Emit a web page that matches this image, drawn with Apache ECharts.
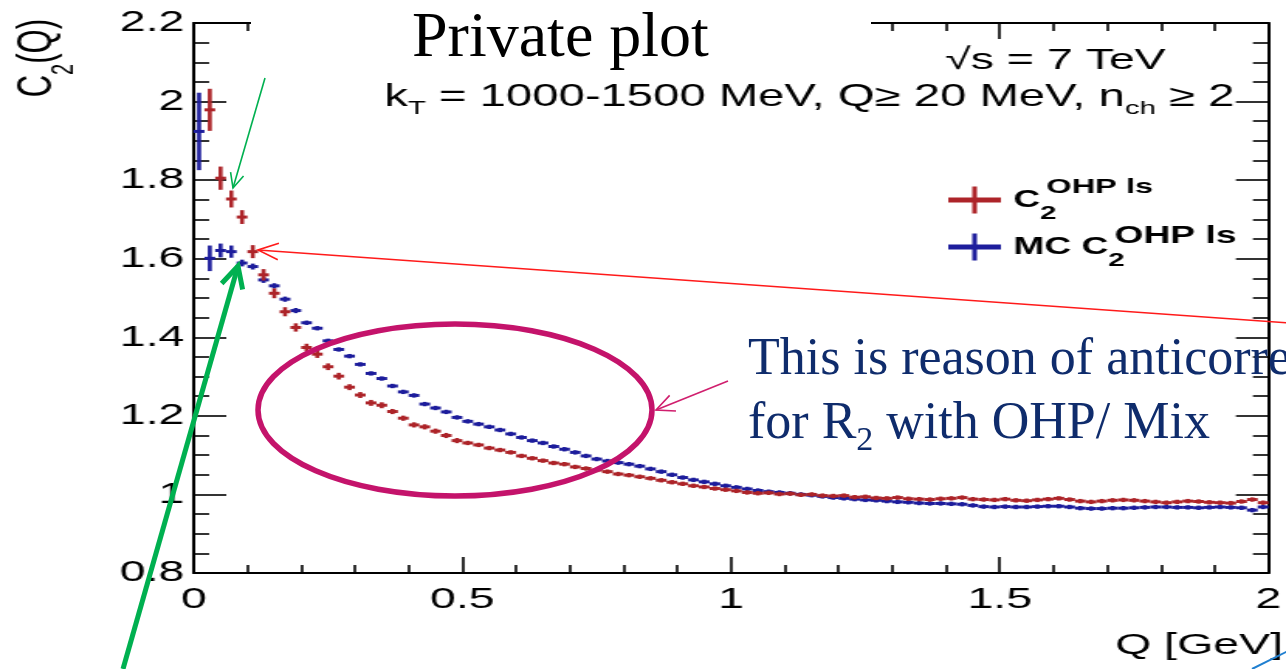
<!DOCTYPE html>
<html>
<head>
<meta charset="utf-8">
<script src="https://cdn.jsdelivr.net/npm/echarts@6/dist/echarts.min.js"></script>
<style>
  html, body { margin: 0; padding: 0; background: #fff; overflow: hidden; }
  #wrap { position: relative; width: 1286px; height: 669px; overflow: hidden; background: #fff; }
  /* the ROOT canvas is shown horizontally stretched on the slide */
  #plot { position: absolute; left: 0; top: 0; width: 830px; height: 669px;
          transform: scaleX(1.54939759); transform-origin: 0 0; }
  #notes { position: absolute; left: 0; top: 0; width: 1286px; height: 669px; }
</style>
</head>
<body>
<div id="wrap"><div id="plot"></div><div id="notes"></div></div>
<script>
// ---- data: C2(Q) per 20 MeV bin, Q from 0 to 2 GeV -------------------------
const BIN_WIDTH = 0.02;
const Q_MIN = 0, Q_MAX = 2;
const X_TICK_STEP = 0.5;
const Y_MIN = 0.8, Y_MAX = 2.2, Y_TICK_STEP = 0.2;

const NAME_DATA = 'C2 OHP ls';
const NAME_MC = 'MC C2 OHP ls';

// measured correlation function (first bin empty: Q >= 20 MeV)
const c2Data = [
  null, 1.979, 1.805, 1.752, 1.706, 1.618, 1.559, 1.512, 1.465, 1.425,
  1.374, 1.357, 1.325, 1.301, 1.273, 1.253, 1.233, 1.227, 1.211, 1.194,
  1.177, 1.172, 1.161, 1.150, 1.137, 1.131, 1.126, 1.118, 1.113, 1.107,
  1.098, 1.092, 1.086, 1.080, 1.077, 1.070, 1.066, 1.062, 1.058, 1.052,
  1.049, 1.045, 1.041, 1.036, 1.031, 1.027, 1.022, 1.019, 1.015, 1.012,
  1.009, 1.005, 1.003, 1.004, 1.001, 1.002, 0.999, 1.000, 0.997, 0.996,
  0.997, 0.993, 0.994, 0.991, 0.990, 0.992, 0.989, 0.988, 0.987, 0.989,
  0.990, 0.992, 0.988, 0.987, 0.986, 0.988, 0.985, 0.984, 0.986, 0.988,
  0.990, 0.987, 0.983, 0.981, 0.983, 0.985, 0.986, 0.985, 0.983, 0.981,
  0.979, 0.981, 0.983, 0.982, 0.980, 0.979, 0.978, 0.982, 0.987, 0.979
];
const c2DataErr = [
  null, 0.051, 0.027, 0.019, 0.015, 0.014, 0.012, 0.010, 0.009, 0.008,
  0.007, 0.007, 0.006, 0.006, 0.005, 0.005, 0.005, 0.005, 0.004, 0.004,
  0.004, 0.004, 0.004, 0.004, 0.004, 0.003, 0.003, 0.003, 0.003, 0.003,
  0.003, 0.003, 0.003, 0.003, 0.003, 0.003, 0.003, 0.003, 0.003, 0.003,
  0.003, 0.003, 0.003, 0.003, 0.003, 0.003, 0.003, 0.003, 0.003, 0.003,
  0.003, 0.003, 0.003, 0.003, 0.003, 0.003, 0.003, 0.003, 0.003, 0.003,
  0.003, 0.003, 0.003, 0.003, 0.003, 0.003, 0.003, 0.003, 0.003, 0.003,
  0.003, 0.003, 0.003, 0.003, 0.003, 0.003, 0.003, 0.003, 0.003, 0.003,
  0.003, 0.003, 0.003, 0.003, 0.003, 0.003, 0.003, 0.003, 0.003, 0.003,
  0.003, 0.003, 0.003, 0.003, 0.003, 0.003, 0.003, 0.003, 0.003, 0.003
];

// Monte Carlo correlation function
const c2Mc = [
  1.924, 1.601, 1.621, 1.618, 1.589, 1.580, 1.546, 1.531, 1.497, 1.468,
  1.437, 1.423, 1.391, 1.369, 1.352, 1.331, 1.308, 1.295, 1.276, 1.261,
  1.252, 1.230, 1.220, 1.210, 1.196, 1.186, 1.179, 1.172, 1.164, 1.154,
  1.145, 1.137, 1.131, 1.122, 1.115, 1.107, 1.098, 1.090, 1.085, 1.081,
  1.077, 1.072, 1.065, 1.058, 1.050, 1.043, 1.037, 1.032, 1.027, 1.022,
  1.018, 1.014, 1.010, 1.007, 1.005, 1.003, 1.000, 0.998, 0.995, 0.992,
  0.990, 0.988, 0.986, 0.985, 0.983, 0.981, 0.980, 0.978, 0.977, 0.977,
  0.976, 0.975, 0.972, 0.969, 0.968, 0.969, 0.968, 0.968, 0.969, 0.970,
  0.970, 0.968, 0.965, 0.964, 0.964, 0.965, 0.965, 0.966, 0.967, 0.968,
  0.968, 0.967, 0.967, 0.966, 0.967, 0.968, 0.967, 0.966, 0.960, 0.968
];
const c2McErr = [
  0.096, 0.030, 0.015, 0.013, 0.006, 0.005, 0.005, 0.004, 0.004, 0.004,
  0.003, 0.003, 0.003, 0.003, 0.003, 0.003, 0.003, 0.003, 0.003, 0.003,
  0.003, 0.003, 0.003, 0.003, 0.003, 0.003, 0.003, 0.003, 0.003, 0.003,
  0.003, 0.003, 0.003, 0.003, 0.003, 0.003, 0.003, 0.003, 0.003, 0.003,
  0.003, 0.003, 0.003, 0.003, 0.003, 0.003, 0.003, 0.003, 0.003, 0.003,
  0.003, 0.003, 0.003, 0.003, 0.003, 0.003, 0.003, 0.003, 0.003, 0.003,
  0.003, 0.003, 0.003, 0.003, 0.003, 0.003, 0.003, 0.003, 0.003, 0.003,
  0.003, 0.003, 0.003, 0.003, 0.003, 0.003, 0.003, 0.003, 0.003, 0.003,
  0.003, 0.003, 0.003, 0.003, 0.003, 0.003, 0.003, 0.003, 0.003, 0.003,
  0.003, 0.003, 0.003, 0.003, 0.003, 0.003, 0.003, 0.003, 0.003, 0.003
];

// ---- styling --------------------------------------------------------------
const SANS = '"Liberation Sans", Arial, Helvetica, sans-serif';
const SERIF = '"Liberation Serif", "Times New Roman", Times, serif';
const RED = '#ad2429';
const BLUE = '#1d1d9c';
const CROSS = 'path://M0,11H34V16H0Z M15.5,0H18.5V27H15.5Z';

function points(values, errors) {
  const out = [];
  values.forEach((v, i) => {
    if (v == null) return;
    const q = +(Q_MIN + BIN_WIDTH * (i + 0.5)).toFixed(3);
    out.push([q, v, errors[i]]);
  });
  return out;
}

// one histogram bin: horizontal bar over the bin, vertical error bar
function renderBin(params, api) {
  const q = api.value(0), v = api.value(1), e = api.value(2);
  const half = BIN_WIDTH * 0.5;
  const a = api.coord([q - half, v]), b = api.coord([q + half, v]);
  const lo = api.coord([q, v - e]), hi = api.coord([q, v + e]);
  const color = api.visual('color');
  return {
    type: 'group',
    children: [
      { type: 'line', shape: { x1: a[0], y1: a[1], x2: b[0], y2: b[1] },
        style: { stroke: color, lineWidth: 3 } },
      { type: 'line', shape: { x1: lo[0], y1: lo[1] + 1, x2: hi[0], y2: hi[1] - 1 },
        style: { stroke: color, lineWidth: 2.6 } }
    ]
  };
}

function frameAxis(extra) {
  return Object.assign({
    type: 'value',
    splitLine: { show: false },
    axisLine: { show: true, onZero: false, lineStyle: { color: '#000', width: 2 } }
  }, extra);
}

const xLabel = { show: true, color: '#000', fontFamily: SANS, fontSize: 30, margin: 12,
                 showMinLabel: true, showMaxLabel: true, formatter: v => String(+v.toFixed(1)) };
const yLabel = { show: true, color: '#000', fontFamily: SANS, fontSize: 30, margin: 6,
                 showMinLabel: true, showMaxLabel: true, formatter: v => String(+v.toFixed(1)) };

const xTicks = { axisTick: { show: true, inside: true, length: 16, lineStyle: { color: '#000', width: 1.6 } },
                 minorTick: { show: true, splitNumber: 5, length: 8, lineStyle: { color: '#000', width: 1.6 } } };
const yTicks = { axisTick: { show: true, inside: true, length: 21, lineStyle: { color: '#000', width: 1.6 } },
                 minorTick: { show: true, splitNumber: 4, length: 10, lineStyle: { color: '#000', width: 1.6 } } };

const bold = (size, extra) => Object.assign({ fontFamily: SANS, fontSize: size, fontWeight: 'bold', color: '#000' }, extra);

const plot = echarts.init(document.getElementById('plot'), null, { renderer: 'canvas' });
plot.setOption({
  animation: false,
  backgroundColor: '#fff',
  grid: { left: 125, right: 5, top: 23, bottom: 96 },
  xAxis: [
    frameAxis(Object.assign({ position: 'bottom', min: Q_MIN, max: Q_MAX, interval: X_TICK_STEP, axisLabel: xLabel }, xTicks)),
    frameAxis(Object.assign({ position: 'top', min: Q_MIN, max: Q_MAX, interval: X_TICK_STEP, axisLabel: { show: false } }, xTicks))
  ],
  yAxis: [
    frameAxis(Object.assign({ position: 'left', min: Y_MIN, max: Y_MAX, interval: Y_TICK_STEP, axisLabel: yLabel }, yTicks)),
    frameAxis(Object.assign({ position: 'right', min: Y_MIN, max: Y_MAX, interval: Y_TICK_STEP, axisLabel: { show: false } }, yTicks))
  ],
  legend: {
    orient: 'vertical', left: 612, top: 177, padding: 0, itemGap: 1,
    itemWidth: 34, itemHeight: 27, selectedMode: false,
    data: [{ name: NAME_DATA, icon: CROSS }, { name: NAME_MC, icon: CROSS }],
    formatter: n => (n === NAME_DATA ? '{m|C}{s|2}{p|OHP ls}' : '{m|MC C}{s|2}{q|OHP ls}'),
    textStyle: {
      rich: {
        m: bold(24, { lineHeight: 46, padding: [0, 0, 0, 3] }),
        s: bold(19, { lineHeight: 17, verticalAlign: 'bottom', width: 1 }),
        p: bold(21, { lineHeight: 17, verticalAlign: 'top', padding: [0, 0, 0, 3] }),
        q: bold(24, { lineHeight: 19, verticalAlign: 'top', padding: [0, 0, 0, 3] })
      }
    }
  },
  graphic: [
    { type: 'text', x: 610, y: 61, z: 10,
      style: { text: '√s = 7 TeV', fontFamily: SANS, fontSize: 30, fill: '#000', verticalAlign: 'middle' } },
    { type: 'text', x: 248, y: 100, z: 10,
      style: { text: '{m|k}{s|T}{m| = 1000-1500 MeV, Q≥ 20 MeV, n}{s|ch}{m| ≥ 2}', verticalAlign: 'middle',
               rich: { m: { fontFamily: SANS, fontSize: 30.5, fill: '#000', lineHeight: 36, verticalAlign: 'top' },
                       s: { fontFamily: SANS, fontSize: 19, fill: '#000', lineHeight: 19, verticalAlign: 'bottom' } } } },
    { type: 'text', x: 828, y: 646, z: 10,
      style: { text: 'Q [GeV]', fontFamily: SANS, fontSize: 30, fill: '#000', align: 'right', verticalAlign: 'middle' } },
    { type: 'text', x: 30, y: 19, rotation: Math.PI / 2, z: 10,
      style: { text: '{m|C}{s|2}{m|(Q)}', align: 'right', verticalAlign: 'middle',
               rich: { m: { fontFamily: SANS, fontSize: 31, fill: '#000', lineHeight: 42, verticalAlign: 'top' },
                       s: { fontFamily: SANS, fontSize: 20, fill: '#000', lineHeight: 20, verticalAlign: 'bottom' } } } }
  ],
  series: [
    { name: NAME_DATA, type: 'custom', z: 3, clip: false, itemStyle: { color: RED },
      renderItem: renderBin, encode: { x: 0, y: 1 }, data: points(c2Data, c2DataErr) },
    { name: NAME_MC, type: 'custom', z: 2, clip: false, itemStyle: { color: BLUE },
      renderItem: renderBin, encode: { x: 0, y: 1 }, data: points(c2Mc, c2McErr) }
  ]
});

// ---- slide notes drawn over the plot --------------------------------------
function arrow(x1, y1, x2, y2, color, width, headLen, headAngle) {
  const ang = Math.atan2(y2 - y1, x2 - x1);
  const a = headAngle * Math.PI / 180;
  const w1 = [x2 - headLen * Math.cos(ang - a), y2 - headLen * Math.sin(ang - a)];
  const w2 = [x2 - headLen * Math.cos(ang + a), y2 - headLen * Math.sin(ang + a)];
  return [
    { type: 'line', shape: { x1, y1, x2, y2 }, style: { stroke: color, lineWidth: width } },
    { type: 'polyline', shape: { points: [w1, [x2, y2], w2] },
      style: { stroke: color, lineWidth: width, fill: null, lineJoin: 'miter' } }
  ];
}

const NAVY = '#0f2c6c';
const GREEN = '#00b050';
const MAGENTA = '#c4136b';

const notes = echarts.init(document.getElementById('notes'), null, { renderer: 'canvas' });
notes.setOption({
  animation: false,
  backgroundColor: 'transparent',
  graphic: [
    { type: 'rect', shape: { x: 251, y: 0, width: 620, height: 76 }, style: { fill: '#fff' } },
    { type: 'text', x: 412, y: 39,
      style: { text: 'Private plot', fontFamily: SERIF, fontSize: 64, fill: '#000', verticalAlign: 'middle' } },
    ...arrow(265, 78, 233, 188, GREEN, 1.6, 16, 25),
    ...arrow(123, 669, 238, 266, GREEN, 5, 24, 27),
    ...arrow(1290, 323, 258, 250, '#ff1a1a', 1.6, 22, 22),
    { type: 'ellipse', shape: { cx: 455, cy: 410, rx: 197, ry: 86 },
      style: { fill: null, stroke: MAGENTA, lineWidth: 5.5 } },
    ...arrow(728, 381, 656, 410, '#d01f6e', 1.6, 20, 25),
    { type: 'line', shape: { x1: 1252, y1: 669, x2: 1290, y2: 650 }, style: { stroke: '#1f7fd0', lineWidth: 2 } },
    { type: 'text', x: 748, y: 360,
      style: { text: 'This is reason of anticorrelation', fontFamily: SERIF, fontSize: 52, fill: NAVY, verticalAlign: 'middle' } },
    { type: 'text', x: 748, y: 428,
      style: { text: '{m|for R}{s|2}{m| with OHP/ Mix}', verticalAlign: 'middle',
               rich: { m: { fontFamily: SERIF, fontSize: 52, fill: NAVY, lineHeight: 60, verticalAlign: 'top' },
                       s: { fontFamily: SERIF, fontSize: 34, fill: NAVY, lineHeight: 34, verticalAlign: 'bottom' } } } }
  ]
});
</script>
</body>
</html>
